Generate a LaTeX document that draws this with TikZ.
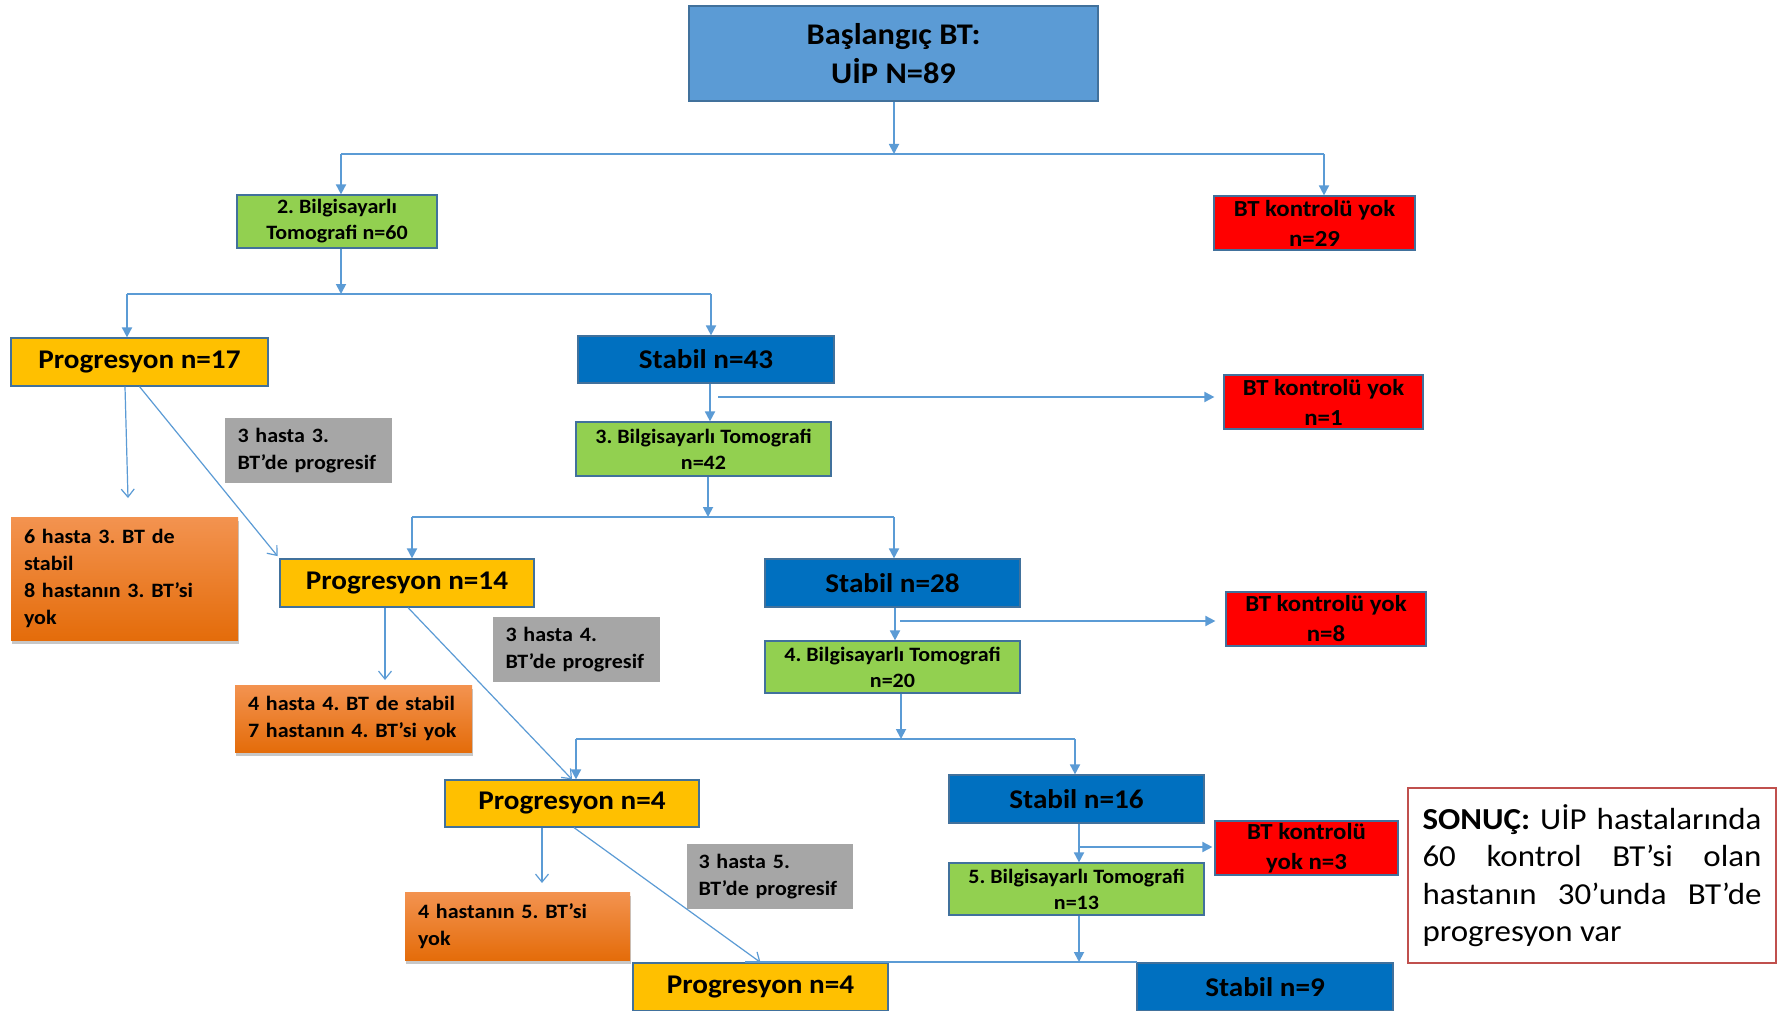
\documentclass[tikz,border=0pt]{standalone}
\usepackage{fontspec}
\setmainfont{Carlito}[FakeStretch=1.08]
\usetikzlibrary{arrows.meta,shadows}
\frenchspacing

\definecolor{topblue}{HTML}{5B9BD5}
\definecolor{edge}{HTML}{41719C}
\definecolor{leaf}{HTML}{92D050}
\definecolor{alarm}{HTML}{FF0000}
\definecolor{amber}{HTML}{FFC000}
\definecolor{deepblue}{HTML}{0070C0}
\definecolor{stone}{HTML}{A6A6A6}
\definecolor{orangetop}{HTML}{F39350}
\definecolor{orangebot}{HTML}{E46C0A}
\definecolor{wire}{HTML}{5B9BD5}
\definecolor{verdict}{HTML}{C0504D}

% box: name, centre x, centre y, width, height, style, text
\newcommand\blk[7]{\node[#6, minimum width=#4pt, minimum height=#5pt] (#1) at (#2,#3) {#7};}

\tikzset{
  box/.style={draw=edge, line width=1.2pt, inner sep=0pt, align=center},
  headbox/.style={box, fill=topblue, line width=1.6pt, font=\bfseries\fontsize{30}{39}\selectfont},
  ctbox/.style={box, fill=leaf, font=\bfseries\fontsize{20.4}{26}\selectfont},
  nocontrol/.style={box, fill=alarm, font=\bfseries\fontsize{23}{30}\selectfont},
  prog/.style={box, fill=amber, font=\bfseries\fontsize{27}{32}\selectfont},
  stab/.style={box, fill=deepblue, font=\bfseries\fontsize{27}{32}\selectfont},
  note/.style={fill=stone, inner xsep=12pt, inner ysep=0pt, text width=142pt, align=left,
    font=\bfseries\fontsize{20.4}{27}\selectfont},
  warn/.style={top color=orangetop, bottom color=orangebot, inner xsep=13pt, inner ysep=0pt,
    align=left, font=\bfseries\fontsize{20.4}{27}\selectfont,
    drop shadow={shadow xshift=1pt, shadow yshift=-4pt, fill=black, opacity=0.22}},
  verdictbox/.style={draw=verdict, line width=1.4pt, fill=white, inner xsep=14.5pt, inner ysep=0pt,
    text width=339pt, align=justify, font=\fontsize{30.5}{37.5}\selectfont},
  wireline/.style={draw=wire, line width=1.8pt},
  link/.style={wireline, -{Triangle[length=10pt,width=10pt]}},
  jump/.style={draw=wire, line width=1.2pt, -{Straight Barb[length=8pt,width=13pt]}},
}

\begin{document}
\begin{tikzpicture}[x=1pt,y=-1pt]
\useasboundingbox (0,0) rectangle (1778,1011);
\fill[white] (0,0) rectangle (1778,1011);

% ---- boxes ----
\blk{top}{893.5}{53.5}{409}{95}{headbox}{Başlangıç BT:\\UİP N=89}
\blk{bt2}{337}{221.5}{200}{53}{ctbox}{2. Bilgisayarlı\\Tomografi n=60}
\blk{r29}{1314.5}{223}{201}{54}{nocontrol}{BT kontrolü yok\\n=29}
\blk{p17}{139.5}{362}{257}{48}{prog}{Progresyon n=17}
\blk{s43}{706}{359.5}{256}{47}{stab}{Stabil n=43}
\blk{r1}{1323.5}{402}{199}{54}{nocontrol}{BT kontrolü yok\\n=1}
\blk{bt3}{703.5}{449}{255}{54}{ctbox}{3. Bilgisayarlı Tomografi\\n=42}
\blk{g3}{308.5}{450.5}{167}{65}{note}{3 hasta 3.\\BT’de progresif}
\blk{o1}{124.5}{578.5}{227}{123}{warn, text width=201pt}{6 hasta 3. BT de\\stabil\\8 hastanın 3. BT’si\\yok}
\blk{p14}{407}{583}{254}{48}{prog}{Progresyon n=14}
\blk{s28}{892.5}{583}{255}{48}{stab}{Stabil n=28}
\blk{g4}{576.5}{649.5}{167}{65}{note}{3 hasta 4.\\BT’de progresif}
\blk{o2}{353.5}{718.5}{237}{67}{warn, text width=211pt}{4 hasta 4. BT de stabil\\7 hastanın 4. BT’si yok}
\blk{r8}{1326}{619}{200}{54}{nocontrol}{BT kontrolü yok\\n=8}
\blk{bt4}{892.5}{667}{255}{52}{ctbox}{4. Bilgisayarlı Tomografi\\n=20}
\blk{p4a}{572}{803.5}{254}{47}{prog}{Progresyon n=4}
\blk{s16}{1076.5}{799}{255}{48}{stab}{Stabil n=16}
\blk{g5}{769.5}{876.5}{165}{65}{note}{3 hasta 5.\\BT’de progresif}
\blk{o3}{517.5}{926}{225}{68}{warn, text width=199pt}{4 hastanın 5. BT’si\\yok}
\blk{r3}{1306.5}{848}{183}{54}{nocontrol}{BT kontrolü\\yok n=3}
\blk{bt5}{1076.5}{889}{255}{52}{ctbox}{5. Bilgisayarlı Tomografi\\n=13}
\blk{p4b}{760.5}{987}{255}{48}{prog}{Progresyon n=4}
\blk{s9}{1265}{987}{256}{48}{stab}{Stabil n=9}
\blk{sonuc}{1592}{875.5}{368}{175}{verdictbox}{\textbf{SONUÇ:} UİP hastalarında\linebreak 60 kontrol BT’si olan\linebreak hastanın 30’unda BT’de\linebreak progresyon var}

% ---- branch points ----
\coordinate (b0) at (894,154);  \coordinate (b0l) at (341,154);  \coordinate (b0r) at (1324,154);
\coordinate (b1) at (341,294);  \coordinate (b1l) at (127,294);  \coordinate (b1r) at (711,294);
\coordinate (b2) at (708,517);  \coordinate (b2l) at (412,517);  \coordinate (b2r) at (894,517);
\coordinate (b3) at (901,739);  \coordinate (b3l) at (576,739);  \coordinate (b3r) at (1075,739);
\coordinate (b4) at (1079,962); \coordinate (b4l) at (745,962);  \coordinate (b4r) at (1137,962);
\coordinate (h1) at (718,397);  \coordinate (h2) at (900,621);   \coordinate (h3) at (1079,847);
\coordinate (e1) at (128,498);  \coordinate (e2) at (385,680);   \coordinate (e3) at (542,883);

% ---- level 1 ----
\draw[link] (top.south -| b0) -- (b0);
\draw[wireline] (b0l) -- (b0r);
\draw[link] (b0l) -- (b0l |- bt2.north);
\draw[link] (b0r) -- (b0r |- r29.north);

% ---- level 2 ----
\draw[link] (bt2.south -| b1) -- (b1);
\draw[wireline] (b1l) -- (b1r);
\draw[link] (b1l) -- (b1l |- p17.north);
\draw[link] (b1r) -- (b1r |- s43.north);

% ---- level 3 ----
\draw[link] ([xshift=4pt]s43.south) -- ([xshift=4pt]s43.south |- bt3.north);
\draw[link, shorten >=9pt] (h1) -- (h1 -| r1.west);
\draw[link] (bt3.south -| b2) -- (b2);
\draw[wireline] (b2l) -- (b2r);
\draw[link] (b2l) -- (b2l |- p14.north);
\draw[link] (b2r) -- (b2r |- s28.north);

% ---- level 4 ----
\draw[link] ([xshift=2.5pt]s28.south) -- ([xshift=2.5pt]s28.south |- bt4.north);
\draw[link, shorten >=10pt] (h2) -- (h2 -| r8.west);
\draw[link] (bt4.south -| b3) -- (b3);
\draw[wireline] (b3l) -- (b3r);
\draw[link] (b3l) -- (b3l |- p4a.north);
\draw[link] (b3r) -- (b3r |- s16.north);

% ---- level 5 ----
\draw[link] ([xshift=2.5pt]s16.south) -- ([xshift=2.5pt]s16.south |- bt5.north);
\draw[link, shorten >=2pt] (h3) -- (h3 -| r3.west);
\draw[link] (bt5.south -| b4) -- (b4);
\draw[wireline] (b4l) -- (b4r);

% ---- progression paths ----
\draw[jump] ([xshift=-14.5pt]p17.south) -- (e1);
\draw[jump, shorten >=3pt] (p17.south) -- (p14.north west);
\draw[jump] ([xshift=-22pt]p14.south) -- (e2);
\draw[jump] ([xshift=1pt]p14.south) -- (p4a.north);
\draw[jump] ([xshift=-30pt]p4a.south) -- (e3);
\draw[jump] ([xshift=2pt]p4a.south) -- (p4b.north);
\end{tikzpicture}
\end{document}
